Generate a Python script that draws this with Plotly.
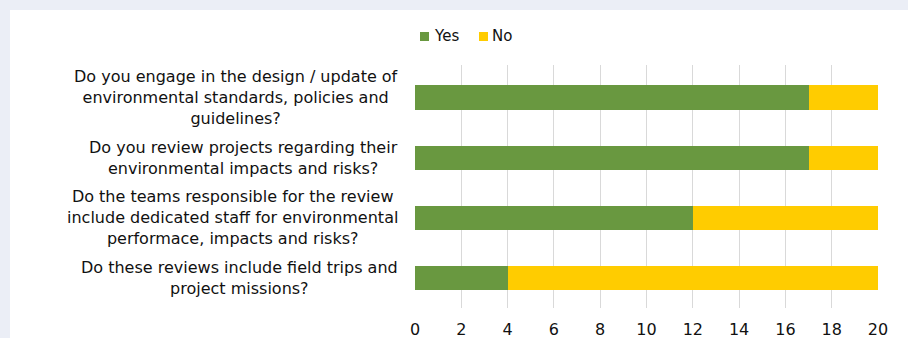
import plotly.graph_objects as go

categories = [
    "Do you engage in the design / update of<br>environmental standards, policies and<br>guidelines?",
    "Do you review projects regarding their<br>environmental impacts and risks?",
    "Do the teams responsible for the review<br>include dedicated staff for environmental<br>performace, impacts and risks?",
    "Do these reviews include field trips and<br>project missions?",
]
cat_ids = ["Q1", "Q2", "Q3", "Q4"]
series_names = ["Yes", "No"]
yes_values = [17, 17, 12, 4]
no_values = [3, 3, 8, 16]
x_ticks = [0, 2, 4, 6, 8, 10, 12, 14, 16, 18, 20]

GREEN = "#699840"
YELLOW = "#FFCC00"
GREY_BG = "#EBEEF6"
FONT = "DejaVu Sans, Verdana, sans-serif"
TXT = "#111111"

W, H = 908, 338
L, R, T, B = 415, 30, 65, 30
pw, ph = W - L - R, H - T - B


def px_x(p):
    return (p - L) / pw


def px_y(p):
    return (H - B - p) / ph


fig = go.Figure()
fig.add_trace(go.Bar(y=cat_ids, x=yes_values, name=series_names[0], orientation="h",
                     marker=dict(color=GREEN, line=dict(width=0))))
fig.add_trace(go.Bar(y=cat_ids, x=no_values, name=series_names[1], orientation="h",
                     marker=dict(color=YELLOW, line=dict(width=0))))

# grey frame along the top and left edges
shapes = [
    dict(type="rect", xref="paper", yref="paper",
         x0=px_x(0), x1=px_x(W), y0=px_y(10), y1=px_y(0),
         fillcolor=GREY_BG, line=dict(width=0), layer="below"),
    dict(type="rect", xref="paper", yref="paper",
         x0=px_x(0), x1=px_x(10), y0=px_y(H), y1=px_y(0),
         fillcolor=GREY_BG, line=dict(width=0), layer="below"),
]

annotations = []
for cid, label in zip(cat_ids, categories):
    annotations.append(dict(xref="paper", yref="y", x=px_x(400), y=cid,
                            text=label, showarrow=False, xanchor="right",
                            yanchor="middle", align="center",
                            font=dict(family=FONT, size=16, color=TXT)))

# compact legend (swatch + label)
legend_items = [(series_names[0], GREEN, 420, 433), (series_names[1], YELLOW, 479, 491)]
for name, col, sx, tx in legend_items:
    shapes.append(dict(type="rect", xref="paper", yref="paper",
                       x0=px_x(sx), x1=px_x(sx + 9), y0=px_y(41), y1=px_y(32),
                       fillcolor=col, line=dict(width=0)))
    annotations.append(dict(xref="paper", yref="paper", x=px_x(tx), y=px_y(36.5),
                            text=name, showarrow=False, xanchor="left",
                            yanchor="middle", borderpad=0,
                            font=dict(family=FONT, size=15, color=TXT)))

fig.update_layout(
    width=W, height=H,
    margin=dict(l=L, r=R, t=T, b=B, autoexpand=False),
    paper_bgcolor="white",
    plot_bgcolor="rgba(0,0,0,0)",
    barmode="stack",
    bargap=0.6,
    shapes=shapes,
    annotations=annotations,
    font=dict(family=FONT, size=16, color=TXT),
    showlegend=False,
)
fig.update_xaxes(range=[0, 20], tickvals=x_ticks, showgrid=True,
                 gridcolor="#D9D9D9", gridwidth=1, zeroline=False,
                 showline=False, ticks="outside", ticklen=7,
                 tickcolor="rgba(0,0,0,0)", tickfont=dict(size=16),
                 automargin=False)
fig.update_yaxes(categoryorder="array", categoryarray=cat_ids,
                 autorange="reversed", showticklabels=False,
                 showgrid=False, zeroline=False, showline=False,
                 automargin=False)

fig.write_html("out.html", config={"displayModeBar": False},
               post_script="document.body.style.margin='0px';document.body.style.background='white';")
